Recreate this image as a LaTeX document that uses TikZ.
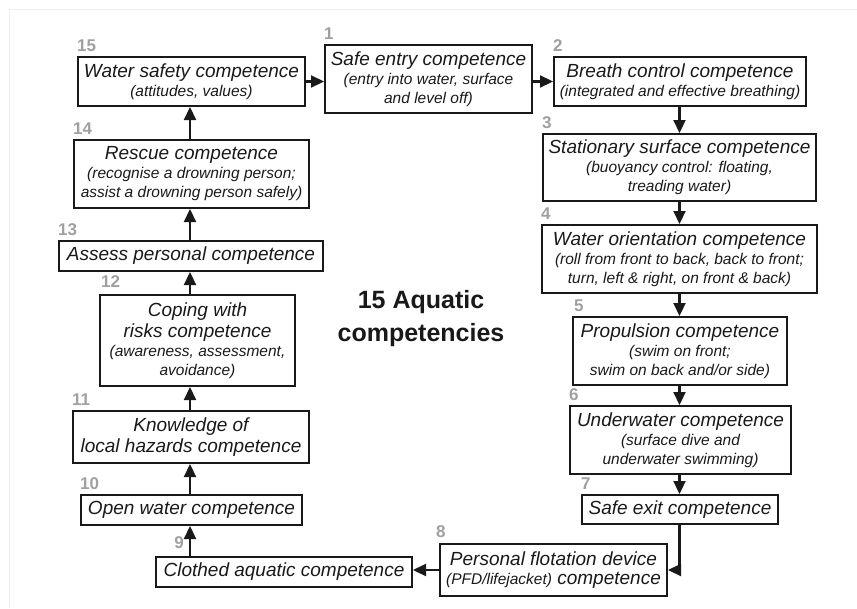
\documentclass[tikz,border=0pt]{standalone}
\usepackage{fontspec}
\setmainfont{Liberation Sans}
\usetikzlibrary{arrows.meta}
\definecolor{numgray}{RGB}{160,160,160}
\definecolor{ink}{RGB}{25,25,25}
\newcommand\myttl{\fontsize{19}{19}\selectfont\itshape}
\newcommand\mysub{\fontsize{15.5}{19}\selectfont\itshape}
\newcommand\mynum{\fontsize{17}{17}\selectfont\bfseries}
\begin{document}
\begin{tikzpicture}[x=1pt,y=-1pt,
  box/.style={draw=ink, line width=2pt, inner sep=0pt, align=center, font=\myttl, text=ink},
  num/.style={font=\mynum, text=numgray, inner sep=0pt, anchor=base west},
  arr/.style={line width=2.2pt, draw=ink, -{Triangle[length=13pt,width=12pt]}},
]
\useasboundingbox (0,0) rectangle (857,608);
\draw[black!7, line width=1pt] (9,608) -- (9,9) -- (857,9);

\coordinate (colL) at (190,0);
\coordinate (colR) at (679.5,0);

% right column
\node[box, minimum width=207pt, minimum height=68pt] (b1) at (428.5,79)
  {Safe entry competence\\{\mysub(entry into water, surface}\\{\mysub and level off)}};
\node[box, minimum width=252pt, minimum height=49pt] (b2) at (680,81.5)
  {Breath control competence\\{\mysub(integrated and effective breathing)}};
\node[box, minimum width=273pt, minimum height=67pt] (b3) at (679.5,167.5)
  {Stationary surface competence\\{\mysub(buoyancy control: floating,}\\{\mysub treading water)}};
\node[box, minimum width=275pt, minimum height=68pt] (b4) at (679.5,259)
  {Water orientation competence\\{\mysub(roll from front to back, back to front;}\\{\mysub turn, left \& right, on front \& back)}};
\node[box, minimum width=214pt, minimum height=68pt] (b5) at (680,351)
  {Propulsion competence\\{\mysub(swim on front;}\\{\mysub swim on back and/or side)}};
\node[box, minimum width=221pt, minimum height=68pt] (b6) at (680.5,440)
  {Underwater competence\\{\mysub(surface dive and}\\{\mysub underwater swimming)}};
\node[box, minimum width=196pt, minimum height=29pt] (b7) at (680,509.5)
  {Safe exit competence};
\node[box, minimum width=227pt, minimum height=52pt] (b8) at (553.5,570)
  {Personal flotation device\\{\mysub(PFD/lifejacket)} competence};
% left column
\node[box, minimum width=256pt, minimum height=30pt] (b9) at (284,572)
  {Clothed aquatic competence};
\node[box, minimum width=221pt, minimum height=30pt] (b10) at (191.5,510)
  {Open water competence};
\node[box, minimum width=236pt, minimum height=52pt] (b11) at (191,437)
  {Knowledge of\\[2pt]local hazards competence};
\node[box, minimum width=195pt, minimum height=91pt] (b12) at (197.5,340.5)
  {Coping with\\[2pt]risks competence\\{\mysub(awareness, assessment,}\\{\mysub avoidance)}};
\node[box, minimum width=264pt, minimum height=30pt] (b13) at (191,256)
  {Assess personal competence};
\node[box, minimum width=235pt, minimum height=68pt] (b14) at (191.5,174)
  {Rescue competence\\{\mysub(recognise a drowning person;}\\{\mysub assist a drowning person safely)}};
\node[box, minimum width=227pt, minimum height=49pt] (b15) at (191.5,81.5)
  {Water safety competence\\{\mysub(attitudes, values)}};

% numbers
\node[num] (n1) at ([yshift=4.5pt]b1.north west) {1};
\node[num] (n2) at ([yshift=4.5pt]b2.north west) {2};
\node[num] (n3) at ([yshift=4.5pt]b3.north west) {3};
\node[num] (n4) at ([yshift=4.5pt]b4.north west) {4};
\node[num] (n5) at ([xshift=2pt,yshift=4.5pt]b5.north west) {5};
\node[num] (n6) at ([yshift=4.5pt]b6.north west) {6};
\node[num] (n7) at ([yshift=4.5pt]b7.north west) {7};
\node[num] (n8) at ([xshift=-3pt,yshift=6pt]b8.north west) {8};
\node[num, anchor=base east] (n9) at (184,548) {9};
\node[num] (n10) at ([yshift=4.5pt]b10.north west) {10};
\node[num] (n11) at ([yshift=4.5pt]b11.north west) {11};
\node[num] (n12) at ([xshift=2pt,yshift=7pt]b12.north west) {12};
\node[num] (n13) at ([yshift=4.5pt]b13.north west) {13};
\node[num] (n14) at ([yshift=4.5pt]b14.north west) {14};
\node[num] (n15) at ([yshift=4.5pt]b15.north west) {15};

% title
\node[font=\bfseries\fontsize{25}{33}\selectfont, align=center, text=ink, inner sep=0pt] (title) at (421,319)
  {15 Aquatic\\competencies};

% arrows
\draw[arr] (b15.east) -- (b15.east -| b1.west);
\draw[arr] (b1.east |- b2.west) -- (b2.west);
\draw[arr] (b2.south -| colR) -- (b3.north -| colR);
\draw[arr] (b3.south -| colR) -- (b4.north -| colR);
\draw[arr] (b4.south -| colR) -- (b5.north -| colR);
\draw[arr] (b5.south -| colR) -- (b6.north -| colR);
\draw[arr] (b6.south -| colR) -- (b7.north -| colR);
\draw[arr] (b7.south -| colR) -- (colR |- b8.east) -- (b8.east);
\draw[arr] (b8.west) -- (b8.west -| b9.east);
\draw[arr] (b9.north -| colL) -- (b10.south -| colL);
\draw[arr] (b10.north -| colL) -- (b11.south -| colL);
\draw[arr] (b11.north -| colL) -- (b12.south -| colL);
\draw[arr] (b12.north -| colL) -- (b13.south -| colL);
\draw[arr] (b13.north -| colL) -- (b14.south -| colL);
\draw[arr] (b14.north -| colL) -- (b15.south -| colL);
\end{tikzpicture}
\end{document}
